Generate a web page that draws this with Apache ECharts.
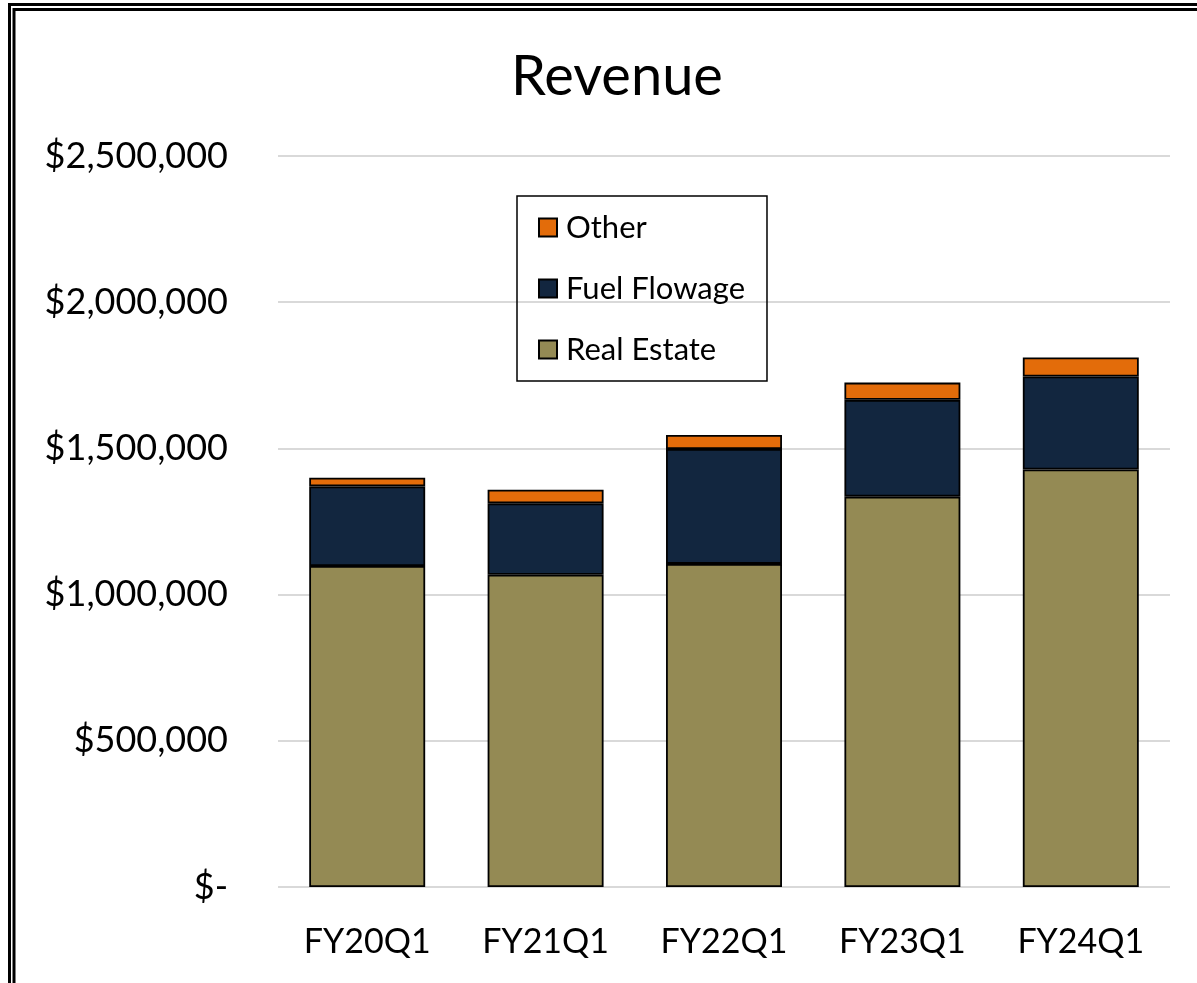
<!DOCTYPE html>
<html>
<head>
<meta charset="utf-8">
<style>
  html, body { margin: 0; padding: 0; background: #fff; }
  #chart { width: 1197px; height: 983px; }
</style>
<script src="https://cdn.jsdelivr.net/npm/echarts@6/dist/echarts.min.js"></script>
</head>
<body>
<div id="chart"></div>
<script>
const quarters = ['FY20Q1', 'FY21Q1', 'FY22Q1', 'FY23Q1', 'FY24Q1'];
const realEstate = [1098000, 1068000, 1105000, 1335000, 1428000];
const fuelFlowage = [272000, 244000, 393000, 331000, 318000];
const other = [30000, 47000, 48000, 59000, 65000];
const yTicks = [0, 500000, 1000000, 1500000, 2000000, 2500000];

const chart = echarts.init(document.getElementById('chart'));

const font = 'Lato, "Open Sans", sans-serif';

const money = v => {
  if (v === 0) return '$-';
  return '$' + v.toLocaleString('en-US');
};

const barStyle = color => ({
  color: color,
  borderColor: '#000',
  borderWidth: 1.8
});

const option = {
  backgroundColor: '#fff',
  animation: false,
  title: {
    text: 'Revenue',
    left: 506,
    top: 44,
    textStyle: { fontFamily: font, fontSize: 56, fontWeight: 'normal', color: '#000' }
  },
  // double frame round the chart
  graphic: [
    { type: 'rect', shape: { x: 9.5, y: 4.5, width: 1400, height: 1200 },
      style: { fill: 'none', stroke: '#000', lineWidth: 3 } },
    { type: 'rect', shape: { x: 14, y: 9.5, width: 1400, height: 1200 },
      style: { fill: 'none', stroke: '#000', lineWidth: 3 } }
  ],
  legend: {
    orient: 'vertical',
    left: 517,
    top: 196,
    data: ['Other', 'Fuel Flowage', 'Real Estate'],
    icon: 'rect',
    itemWidth: 18,
    itemHeight: 18,
    itemGap: 30,
    padding: [16, 22, 16, 21],
    borderColor: '#000',
    borderWidth: 1.5,
    textStyle: { fontFamily: font, fontSize: 31, color: '#000', padding: [0, 0, 0, 4] }
  },
  grid: { left: 278, right: 27, top: 156, bottom: 96 },
  xAxis: {
    type: 'category',
    data: quarters,
    axisLine: { show: false },
    axisTick: { show: false },
    axisLabel: { fontFamily: font, fontSize: 34, color: '#000', margin: 38 }
  },
  yAxis: {
    type: 'value',
    min: 0,
    max: yTicks[yTicks.length - 1],
    interval: 500000,
    axisLine: { show: false },
    axisTick: { show: false },
    splitLine: { lineStyle: { color: '#d9d9d9', width: 2 } },
    axisLabel: { fontFamily: font, fontSize: 36, color: '#000', margin: 50, formatter: money }
  },
  series: [
    { name: 'Real Estate', type: 'bar', stack: 'rev', barWidth: '65%', data: realEstate, itemStyle: barStyle('#948a54') },
    { name: 'Fuel Flowage', type: 'bar', stack: 'rev', data: fuelFlowage, itemStyle: barStyle('#12263f') },
    { name: 'Other', type: 'bar', stack: 'rev', data: other, itemStyle: barStyle('#e36c0a') }
  ]
};

chart.setOption(option);
</script>
</body>
</html>
